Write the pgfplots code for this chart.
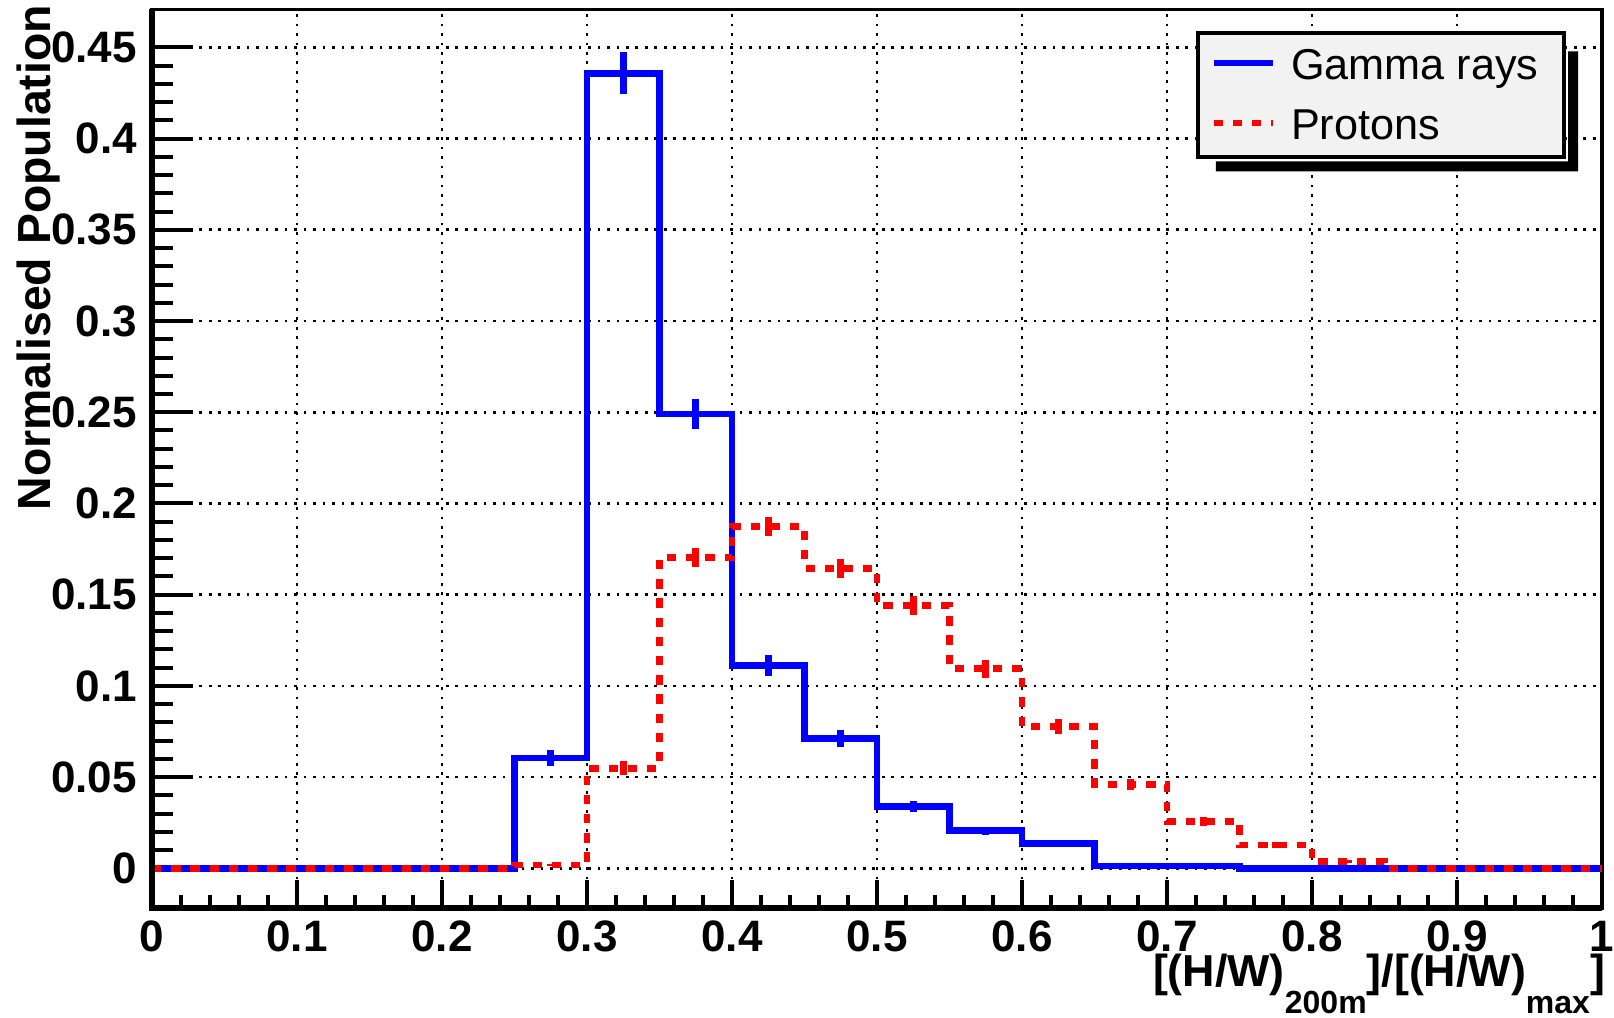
\documentclass[border=0pt]{standalone}
\usepackage{pgfplots}
\pgfplotsset{compat=1.18}
\usepackage{pgfplotstable}
\usepackage{fontspec}
\setmainfont{Liberation Sans}

% Normalised histograms, bin width 0.05; lo = left bin edge
% g/ge: gamma rays (value, error), p/pe: protons (value, error)
% the last row only closes the final bin at x = 1
\pgfplotstableread{
lo    g       ge      p       pe
0.00  0       0       0       0
0.05  0       0       0       0
0.10  0       0       0       0
0.15  0       0       0       0
0.20  0       0       0       0
0.25  0.0605  0.0043  0.0018  0.0008
0.30  0.4358  0.0116  0.0549  0.0037
0.35  0.2490  0.0082  0.1703  0.0061
0.40  0.1113  0.0058  0.1873  0.0064
0.45  0.0711  0.0047  0.1645  0.0059
0.50  0.0337  0.0030  0.1440  0.0055
0.55  0.0206  0.0023  0.1094  0.0050
0.60  0.0137  0.0018  0.0776  0.0041
0.65  0.0013  0.0005  0.0460  0.0032
0.70  0.0013  0.0005  0.0258  0.0024
0.75  0       0       0.0127  0.0018
0.80  0       0       0.0036  0.0009
0.85  0       0       0       0
0.90  0       0       0       0
0.95  0       0       0       0
1.00  0       0       0       0
}\hwdata

\tikzset{
  protonline/.style={red, line width=1.68pt, dash pattern=on 2.33pt off 2.47pt},
  gammaline/.style={blue, line width=1.68pt},
}

\begin{document}
\begin{tikzpicture}
\begin{axis}[
  scale only axis,
  width=362.5pt, height=224.6pt,
  xmin=0, xmax=1, ymin=-0.0217, ymax=0.4708,
  xtick={0,0.1,0.2,0.3,0.4,0.5,0.6,0.7,0.8,0.9,1},
  ytick={0,0.05,0.1,0.15,0.2,0.25,0.3,0.35,0.4,0.45},
  scaled ticks=false,
  minor x tick num=4, minor y tick num=4,
  tick align=inside, tick pos=left,
  major tick length=10.2pt, minor tick length=5.2pt,
  xtick style={/pgfplots/major tick length=6.9pt, /pgfplots/minor tick length=3.3pt},
  every tick/.style={black, line width=1pt},
  grid=major,
  major grid style={black, line width=0.67pt, dash pattern=on 0.67pt off 1.7pt},
  axis line style={line width=0.85pt},
  /pgf/number format/.cd, fixed, precision=2, assume math mode=true, /pgfplots/.cd,
  tick label style={font=\fontsize{11}{13}\selectfont\bfseries},
  xticklabel style={anchor=base, yshift=-11pt},
  yticklabel style={anchor=east, inner sep=0pt, xshift=-3.6pt},
  xlabel={[(H/W)\raisebox{-6.7pt}{\fontsize{8}{9}\selectfont 200m}]/[(H/W)\raisebox{-6.7pt}{\fontsize{8}{9}\selectfont max}]},
  xlabel style={at={(axis description cs:1.002,-0.0873)}, anchor=base east,
    inner sep=0pt, outer sep=0pt, font=\fontsize{11.2}{13}\selectfont\bfseries},
  ylabel={Normalised Population},
  ylabel style={at={(axis description cs:-0.0703,1.0049)}, anchor=base east,
    inner sep=0pt, outer sep=0pt, font=\fontsize{11.6}{14}\selectfont\bfseries},
  legend cell align=left,
  legend image code/.code={\draw[#1] (0pt,0.6pt) -- (14.9pt,0.6pt);},
  legend style={name=leg, at={(axis description cs:0.9752,0.9755)}, anchor=north east,
    fill=black!5, draw=black, line width=1pt,
    inner xsep=3.1pt, inner ysep=0.5pt,
    row sep=0pt, column sep=3.6pt,
    nodes={inner sep=0pt, text height=11pt, text depth=4pt},
    font=\fontsize{10.8}{13}\selectfont},
  after end axis/.code={
    \draw[black, line width=1.4pt] (rel axis cs:0,1) -- (rel axis cs:0,0) -- (rel axis cs:1,0);
  },
]
% gamma rays
\addplot[gammaline, const plot mark left, forget plot] table[x=lo, y=g] {\hwdata};
\addplot[draw=none, mark=none, forget plot,
  skip coords between index={20}{21},
  error bars/.cd, y dir=both, y explicit, error mark=none,
  error bar style={gammaline, draw=blue}]
  table[x expr=\thisrow{lo}+0.025, y=g, y error=ge] {\hwdata};
% protons
\addplot[protonline, const plot mark left, forget plot] table[x=lo, y=p] {\hwdata};
\addplot[draw=none, mark=none, forget plot,
  skip coords between index={20}{21},
  error bars/.cd, y dir=both, y explicit, error mark=none,
  error bar style={protonline, draw=red}]
  table[x expr=\thisrow{lo}+0.025, y=p, y error=pe] {\hwdata};
% legend
\addlegendimage{gammaline}
\addlegendentry{Gamma rays\hspace*{3.35pt}}
\addlegendimage{protonline}
\addlegendentry{Protons}
\end{axis}
% legend shadow strips, right and below the box
\fill[black] ([xshift=0.5pt,yshift=-5pt]leg.north east)
  -- ([xshift=3pt,yshift=-5pt]leg.north east)
  -- ([xshift=3pt,yshift=-3pt]leg.south east)
  -- ([xshift=5pt,yshift=-3pt]leg.south west)
  -- ([xshift=5pt,yshift=-0.5pt]leg.south west)
  -- ([xshift=0.5pt,yshift=-0.5pt]leg.south east) -- cycle;
\pgfresetboundingbox
\path[use as bounding box] ([xshift=-38pt,yshift=-27.5pt]current axis.south west)
  rectangle ([xshift=3pt,yshift=2.375pt]current axis.north east);
\end{tikzpicture}
\end{document}
